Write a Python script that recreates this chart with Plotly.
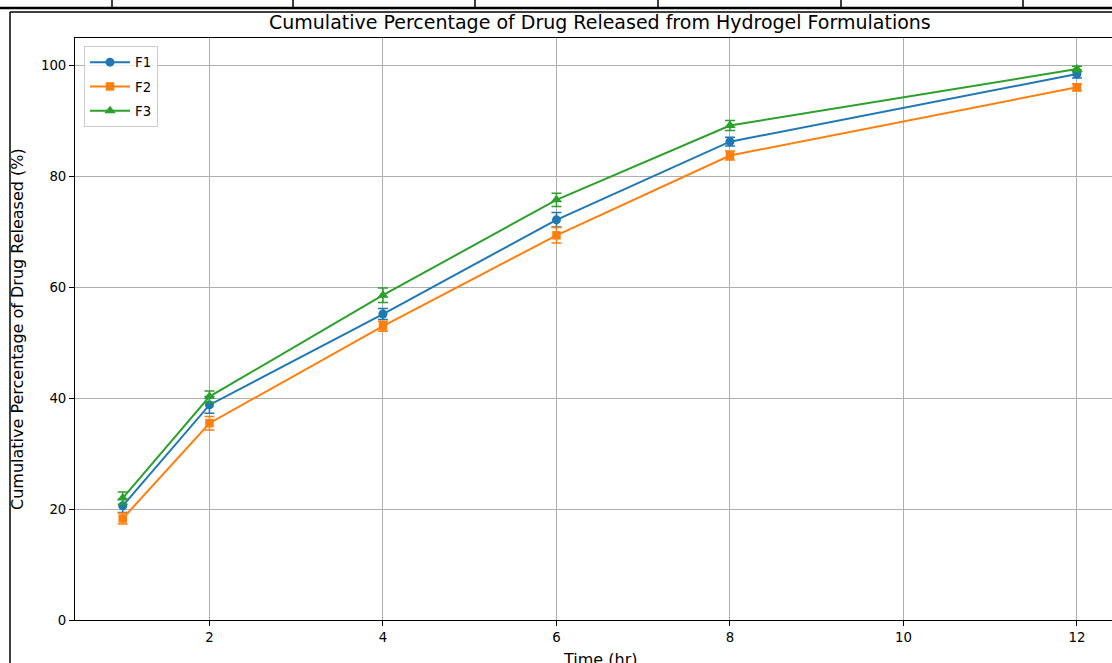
import plotly.graph_objects as go

time_hr = [1, 2, 4, 6, 8, 12]
f1_values = [20.6, 38.8, 55.2, 72.2, 86.3, 98.5]
f1_errors = [1.2, 1.5, 1.0, 1.3, 0.8, 0.7]
f2_values = [18.3, 35.5, 53.0, 69.4, 83.8, 96.1]
f2_errors = [1.0, 1.2, 0.9, 1.4, 0.8, 0.6]
f3_values = [22.0, 40.3, 58.6, 75.8, 89.2, 99.4]
f3_errors = [1.1, 1.0, 1.3, 1.2, 0.9, 0.5]

series = [
    ("F1", f1_values, f1_errors, "#1f77b4", "circle", 9),
    ("F2", f2_values, f2_errors, "#ff7f0e", "square", 8.5),
    ("F3", f3_values, f3_errors, "#2ca02c", "triangle-up", 10),
]

W, H = 1112, 663
L, R, T, B = 75, 1112, 38, 620
FONT = "DejaVu Sans"


def xp(px):
    return (px - L) / (R - L)


def yp(py):
    return (B - py) / (B - T)


fig = go.Figure()
for name, vals, errs, col, sym, msize in series:
    fig.add_trace(go.Scatter(
        x=time_hr, y=vals, name=name, mode="lines+markers", legendgroup=name,
        line=dict(color=col, width=2),
        marker=dict(color=col, size=msize, symbol=sym),
        error_y=dict(type="data", array=errs, visible=True, color=col,
                     thickness=1.5, width=5),
    ))

shapes = []
# border artefacts around the figure
shapes.append(dict(type="line", xref="paper", yref="paper",
                   x0=xp(0), x1=xp(W), y0=yp(8), y1=yp(8),
                   line=dict(color="black", width=2.5)))
for vx in [112, 293, 475, 658, 841, 1023]:
    shapes.append(dict(type="line", xref="paper", yref="paper",
                       x0=xp(vx), x1=xp(vx), y0=yp(0), y1=yp(8),
                       line=dict(color="black", width=1.5)))
shapes.append(dict(type="line", xref="paper", yref="paper",
                   x0=xp(10), x1=xp(W), y0=yp(12), y1=yp(12),
                   line=dict(color="black", width=1.5)))
shapes.append(dict(type="line", xref="paper", yref="paper",
                   x0=xp(10), x1=xp(10), y0=yp(12), y1=yp(H),
                   line=dict(color="black", width=1.5)))

annotations = [
    dict(text="Cumulative Percentage of Drug Released from Hydrogel Formulations",
         xref="paper", yref="paper", x=xp(600), y=yp(22),
         xanchor="center", yanchor="middle", showarrow=False,
         font=dict(family=FONT, size=19, color="black")),
    dict(text="Cumulative Percentage of Drug Released (%)",
         xref="paper", yref="paper", x=xp(17), y=yp(329),
         xanchor="center", yanchor="middle", showarrow=False, textangle=-90,
         font=dict(family=FONT, size=16, color="black")),
    dict(text="Time (hr)",
         xref="paper", yref="paper", x=xp(600), y=yp(659),
         xanchor="center", yanchor="middle", showarrow=False,
         font=dict(family=FONT, size=16, color="black")),
]

fig.update_layout(
    width=W, height=H,
    margin=dict(l=L, r=W - R, t=T, b=H - B, pad=0),
    paper_bgcolor="white", plot_bgcolor="white",
    font=dict(family=FONT, size=13, color="black"),
    showlegend=True,
    legend=dict(x=xp(84), y=yp(46), xanchor="left", yanchor="top",
                bgcolor="rgba(255,255,255,0.8)", bordercolor="#cccccc",
                borderwidth=1, itemwidth=40, tracegroupgap=4,
                font=dict(family=FONT, size=13.3, color="black")),
    shapes=shapes,
    annotations=annotations,
    xaxis=dict(range=[0.45, 12.404], tickmode="array", tickvals=[2, 4, 6, 8, 10, 12],
               showgrid=True, gridcolor="#b0b0b0", gridwidth=1, zeroline=False,
               showline=True, linecolor="black", linewidth=1, mirror=True,
               ticks="outside", ticklen=5, tickwidth=1, tickcolor="black",
               tickfont=dict(family=FONT, size=13.3, color="black")),
    yaxis=dict(range=[0, 105], tickmode="array", tickvals=[0, 20, 40, 60, 80, 100],
               showgrid=True, gridcolor="#b0b0b0", gridwidth=1, zeroline=False,
               showline=True, linecolor="black", linewidth=1,
               ticks="outside", ticklen=5, tickwidth=1, tickcolor="black",
               tickfont=dict(family=FONT, size=13.3, color="black")),
)

fig.write_html("out.html", config={"displayModeBar": False},
               post_script="document.body.style.margin='0';document.body.style.overflow='hidden';")
